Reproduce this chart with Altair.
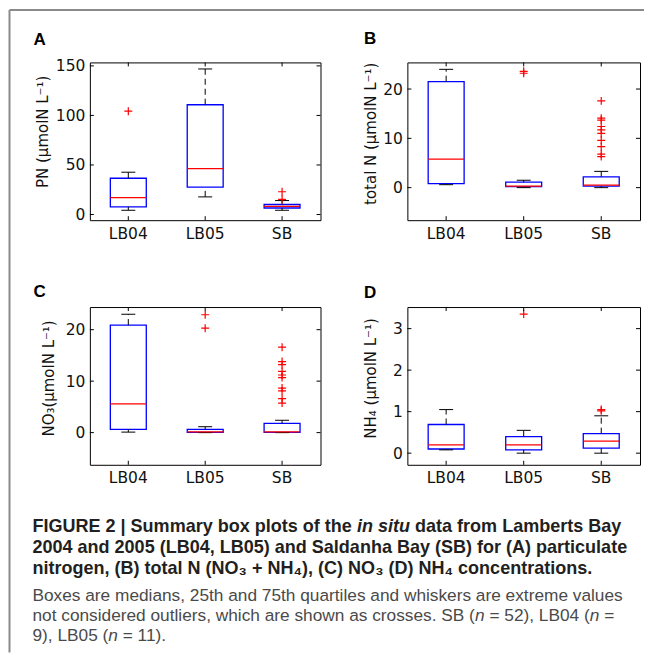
import altair as alt
import pandas as pd

cats = ["LB04", "LB05", "SB"]

# (A) particulate nitrogen
pn_lo  = [4.3, 17.8, 4.3]
pn_q1  = [7.7, 27.6, 6.6]
pn_med = [17.0, 46.4, 8.3]
pn_q3  = [36.6, 110.8, 10.1]
pn_hi  = [42.7, 146.9, 14.1]
pn_out_cat = ["LB04", "SB", "SB"]
pn_out_val = [104.3, 23.0, 15.3]
pn_ticks = [0, 50, 100, 150]
pn_domain = [-5.7, 153.5]

# (B) total N
tn_lo  = [0.6, 0.0, 0.0]
tn_q1  = [0.8, 0.2, 0.3]
tn_med = [5.8, 0.3, 0.5]
tn_q3  = [21.5, 1.1, 2.2]
tn_hi  = [24.0, 1.5, 3.3]
tn_out_cat = ["LB05", "LB05"] + ["SB"] * 10
tn_out_val = [23.2, 23.6, 17.6, 14.1, 13.7, 12.4, 11.7, 11.0, 9.6, 8.3, 6.8, 6.3]
tn_ticks = [0, 10, 20]
tn_domain = [-6.6, 25.4]

# (C) NO3
no_lo  = [0.1, 0.0, 0.0]
no_q1  = [0.65, 0.05, 0.05]
no_med = [5.6, 0.15, 0.15]
no_q3  = [20.9, 0.65, 1.8]
no_hi  = [23.0, 1.15, 2.4]
no_out_cat = ["LB05", "LB05"] + ["SB"] * 10
no_out_val = [22.9, 20.3, 16.6, 13.8, 13.2, 11.9, 11.2, 10.7, 8.65, 8.1, 6.6, 5.75]
no_ticks = [0, 10, 20]
no_domain = [-6.25, 24.4]

# (D) NH4
nh_lo  = [0.08, 0.0, 0.0]
nh_q1  = [0.1, 0.08, 0.12]
nh_med = [0.2, 0.2, 0.29]
nh_q3  = [0.69, 0.4, 0.47]
nh_hi  = [1.05, 0.55, 0.9]
nh_out_cat = ["LB05", "SB", "SB"]
nh_out_val = [3.35, 1.05, 1.02]
nh_ticks = [0, 1, 2, 3]
nh_domain = [-0.28, 3.52]

titles = ["PN (μmolN L⁻¹)", "total N (μmolN L⁻¹)", "NO₃(μmolN L⁻¹)", "NH₄ (μmolN L⁻¹)"]
letters = ["A", "B", "C", "D"]

cap_line1 = ["FIGURE 2 | Summary box plots of the", "in situ", "data from Lamberts Bay"]
cap_line2 = "2004 and 2005 (LB04, LB05) and Saldanha Bay (SB) for (A) particulate"
cap_line3 = "nitrogen, (B) total N (NO₃ + NH₄), (C) NO₃ (D) NH₄ concentrations."
cap_line4 = "Boxes are medians, 25th and 75th quartiles and whiskers are extreme values"
cap_line5 = ["not considered outliers, which are shown as crosses. SB (", "n", "= 52), LB04 (", "n", "="]
cap_line6 = ["9), LB05 (", "n", "= 11)."]

# ---------------------------------------------------------------- layout
W1, W2, H = 231, 233, 158
AX_FONT = "DejaVu Sans"
CAP_FONT = "Liberation Sans"
one = alt.Data(values=[{}])


def txt(s, x, y, size, weight="normal", style="normal", color="#231f20", font=CAP_FONT):
    return alt.Chart(one).mark_text(
        text=s, align="left", baseline="alphabetic", font=font, fontSize=size,
        fontWeight=weight, fontStyle=style, color=color
    ).encode(x=alt.value(x), y=alt.value(y))


def panel(lo, q1, med, q3, hi, out_cat, out_val, ticks, domain, ytitle, W,
          title_x, title_y, letter, letter_x, letter_y, extra=()):
    box = pd.DataFrame({"cat": cats, "lo": lo, "q1": q1, "med": med, "q3": q3, "hi": hi})
    outl = pd.DataFrame({"cat": out_cat, "val": out_val})
    tk = pd.DataFrame({"t": ticks})
    cx = pd.DataFrame({"cat": cats})
    xs = alt.Scale(domain=cats, paddingInner=0, paddingOuter=0)
    ys = alt.Scale(domain=domain, nice=False, zero=False)
    xax = alt.Axis(title=None, ticks=False, tickSize=0, domain=False, grid=False,
                   labelAngle=0, labelPadding=6, labelFont=AX_FONT, labelFontSize=15.5,
                   labelColor="#111")
    yax = alt.Axis(title=ytitle, values=ticks, ticks=False, tickSize=0, domain=False,
                   grid=False, labelPadding=5, labelFont=AX_FONT, labelFontSize=15.5,
                   labelColor="#111", titleFont=AX_FONT, titleFontSize=15,
                   titleFontWeight="normal", titleColor="#111", titleAngle=270,
                   titleAlign="center", titleBaseline="alphabetic",
                   titleX=title_x, titleY=title_y)
    X = alt.X("cat:N", scale=xs, axis=xax, sort=cats)

    def Y(f):
        return alt.Y(f + ":Q", scale=ys, axis=yax)

    boxes = alt.Chart(box).mark_bar(size=36, fillOpacity=0, stroke="#0000ff",
                                    strokeWidth=1.3).encode(
        x=X, y=Y("q1"), y2=alt.Y2("q3"))
    wu = alt.Chart(box).mark_rule(color="black", strokeDash=[6, 4], strokeWidth=1).encode(
        x=X, y=Y("q3"), y2=alt.Y2("hi"))
    wl = alt.Chart(box).mark_rule(color="black", strokeDash=[6, 4], strokeWidth=1).encode(
        x=X, y=Y("lo"), y2=alt.Y2("q1"))
    cap_hi = alt.Chart(box).mark_tick(orient="horizontal", size=14, thickness=1,
                                      color="black", opacity=1).encode(x=X, y=Y("hi"))
    cap_lo = alt.Chart(box).mark_tick(orient="horizontal", size=14, thickness=1,
                                      color="black", opacity=1).encode(x=X, y=Y("lo"))
    meds = alt.Chart(box).mark_tick(orient="horizontal", size=36, thickness=1.2,
                                    color="#ff0000", opacity=1).encode(x=X, y=Y("med"))
    pts = alt.Chart(outl).mark_point(shape="M-1,0L1,0M0,-1L0,1", size=64, filled=False,
                                     color="#ff0000", strokeWidth=1.2, opacity=1).encode(
        x=X, y=Y("val"))
    ytl = alt.Chart(tk).mark_rule(color="black").encode(
        y=Y("t"), x=alt.value(0), x2=alt.value(4))
    ytr = alt.Chart(tk).mark_rule(color="black").encode(
        y=Y("t"), x=alt.value(W - 4), x2=alt.value(W))
    xtb = alt.Chart(cx).mark_rule(color="black").encode(
        x=X, y=alt.value(H - 4), y2=alt.value(H))
    xtt = alt.Chart(cx).mark_rule(color="black").encode(
        x=X, y=alt.value(0), y2=alt.value(4))
    let = txt(letter, letter_x, letter_y, 17, weight="bold", color="black")
    return alt.layer(boxes, wu, wl, cap_hi, cap_lo, meds, pts, ytl, ytr, xtb, xtt, let,
                     *extra).properties(
        width=W, height=H,
        view=alt.ViewBackground(stroke="black", strokeWidth=1))


# page frame (left and top rules), drawn from panel A
frame = [
    alt.Chart(one).mark_rule(color="#8a8a8a", strokeWidth=2).encode(
        x=alt.value(-80.5), y=alt.value(-52.5), y2=alt.value(591)),
    alt.Chart(one).mark_rule(color="#8a8a8a", strokeWidth=2).encode(
        y=alt.value(-52.5), x=alt.value(-80.5), x2=alt.value(555)),
]

# caption, drawn from panel C (origin = C plot top-left)
BF, RF = 18.05, 17.3
x0 = -57.5
bold = dict(weight="bold", color="#231f20")
reg = dict(color="#4a4a4a")
caption = [
    txt(cap_line1[0], x0, 225.5, BF, **bold),
    txt(cap_line1[1], x0 + 18.006 * BF, 225.5, BF, style="italic", **bold),
    txt(cap_line1[2], x0 + 21.229 * BF, 225.5, BF, **bold),
    txt(cap_line2, x0, 246.5, BF, **bold),
    txt(cap_line3, x0, 267.5, BF, **bold),
    txt(cap_line4, x0, 294, RF, **reg),
    txt(cap_line5[0], x0, 314.5, RF, **reg),
    txt(cap_line5[1], x0 + 25.621 * RF, 314.5, RF, style="italic", **reg),
    txt(cap_line5[2], x0 + 26.455 * RF, 314.5, RF, **reg),
    txt(cap_line5[3], x0 + 32.264 * RF, 314.5, RF, style="italic", **reg),
    txt(cap_line5[4], x0 + 33.098 * RF, 314.5, RF, **reg),
    txt(cap_line6[0], x0, 334.5, RF, **reg),
    txt(cap_line6[1], x0 + 4.391 * RF, 334.5, RF, style="italic", **reg),
    txt(cap_line6[2], x0 + 5.225 * RF, 334.5, RF, **reg),
]

pA = panel(pn_lo, pn_q1, pn_med, pn_q3, pn_hi, pn_out_cat, pn_out_val, pn_ticks, pn_domain,
           titles[0], W1, -42, 69, letters[0], -56.5, -17.5, extra=frame)
pB = panel(tn_lo, tn_q1, tn_med, tn_q3, tn_hi, tn_out_cat, tn_out_val, tn_ticks, tn_domain,
           titles[1], W2, -32, 71, letters[1], -43.5, -18)
pC = panel(no_lo, no_q1, no_med, no_q3, no_hi, no_out_cat, no_out_val, no_ticks, no_domain,
           titles[2], W1, -36, 71, letters[2], -56.5, -10.5, extra=caption)
pD = panel(nh_lo, nh_q1, nh_med, nh_q3, nh_hi, nh_out_cat, nh_out_val, nh_ticks, nh_domain,
           titles[3], W2, -32, 71, letters[3], -43.5, -9.5)

chart = alt.concat(pA, pB, pC, pD, columns=2, spacing=87, bounds="flush").properties(
    padding=0
).configure_view(stroke="black", strokeWidth=1).configure(background="white")

chart.save("out.html", embed_options={"renderer": "svg", "actions": False})
